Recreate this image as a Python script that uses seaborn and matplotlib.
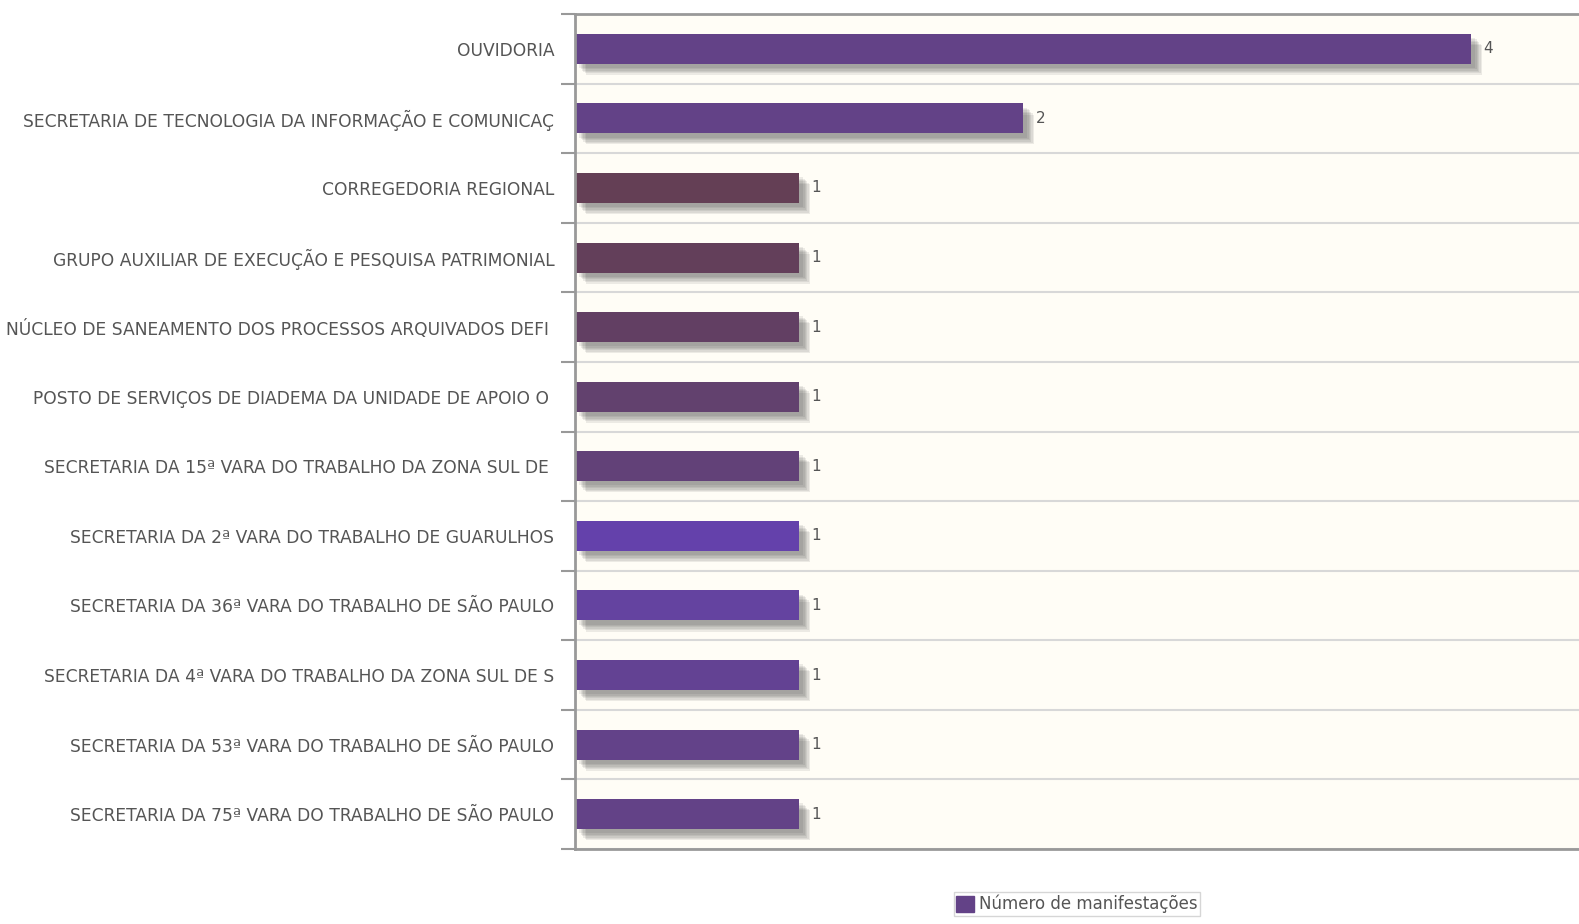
import numpy as np
import pandas as pd
import matplotlib.pyplot as plt
import matplotlib.patheffects as pe
from matplotlib.patches import Patch
import seaborn as sns

# dados
setores = ['OUVIDORIA',
           'SECRETARIA DE TECNOLOGIA DA INFORMAÇÃO E COMUNICAÇ',
           'CORREGEDORIA REGIONAL',
           'GRUPO AUXILIAR DE EXECUÇÃO E PESQUISA PATRIMONIAL',
           'NÚCLEO DE SANEAMENTO DOS PROCESSOS ARQUIVADOS DEFI ',
           'POSTO DE SERVIÇOS DE DIADEMA DA UNIDADE DE APOIO O ',
           'SECRETARIA DA 15ª VARA DO TRABALHO DA ZONA SUL DE ',
           'SECRETARIA DA 2ª VARA DO TRABALHO DE GUARULHOS',
           'SECRETARIA DA 36ª VARA DO TRABALHO DE SÃO PAULO',
           'SECRETARIA DA 4ª VARA DO TRABALHO DA ZONA SUL DE S',
           'SECRETARIA DA 53ª VARA DO TRABALHO DE SÃO PAULO',
           'SECRETARIA DA 75ª VARA DO TRABALHO DE SÃO PAULO']
manifestacoes = [4, 2, 1, 1, 1, 1, 1, 1, 1, 1, 1, 1]
cores = ['#634287', '#634287', '#643f55', '#633f5a', '#623f63', '#62416e',
         '#624178', '#6441ab', '#6443a0', '#634293', '#634289', '#634287']

df = pd.DataFrame({'setor': setores, 'valor': manifestacoes})

sns.set_style('white')
plt.rcParams['font.family'] = ['DejaVu Sans']

fig = plt.figure(figsize=(15.79, 9.24), dpi=100)
ax = fig.add_axes([575 / 1579, 1 - 849 / 924, 1 - 575 / 1579, (849 - 14) / 924])
ax.set_facecolor('#fffdf6')

sns.barplot(data=df, x='valor', y='setor', hue='setor', palette=cores,
            legend=False, orient='h', width=0.43, ax=ax, saturation=1, linewidth=0)

# sombra difusa
sombra = [pe.SimplePatchShadow(offset=(d, -d), shadow_rgbFace='#333333', alpha=0.09)
          for d in (8, 7, 6, 5, 4, 3)] + [pe.Normal()]
for cont in ax.containers:
    for b in cont:
        b.set_path_effects(sombra)
    ax.bar_label(cont, padding=9, fontsize=11, color='#555555')

n = len(setores)
ax.set_xlim(0, (1579 - 575) / 224)
ax.set_ylim(n - 0.5, -0.5)
ax.set_xticks([])
ax.set_yticks(np.arange(n + 1) - 0.5)
ax.set_yticklabels([])
ax.set_yticks(np.arange(n), minor=True)
ax.set_yticklabels(setores, minor=True)
ax.tick_params(axis='y', which='major', length=10, width=1.5, color='#999999', left=True)
ax.tick_params(axis='y', which='minor', length=0, pad=15, labelsize=12.3, labelcolor='#555555')
ax.set_xlabel('')
ax.set_ylabel('')
ax.grid(axis='y', which='major', color='#d8d8d8', lw=1.5)
ax.set_axisbelow(True)

for s in ['left', 'top', 'bottom']:
    ax.spines[s].set_visible(True)
    ax.spines[s].set_color('#999999')
    ax.spines[s].set_linewidth(2)
ax.spines['right'].set_visible(False)

fig.legend(handles=[Patch(facecolor='#634287', edgecolor='#634287', label='Número de manifestações')],
           loc='center', bbox_to_anchor=(1077 / 1579, 1 - 904 / 924), fontsize=12,
           frameon=True, edgecolor='#cccccc', fancybox=False, handlelength=1.1,
           handleheight=1.1, handletextpad=0.3, borderpad=0.15, labelcolor='#555555')

fig.savefig('out.png', dpi=100, facecolor='white')
